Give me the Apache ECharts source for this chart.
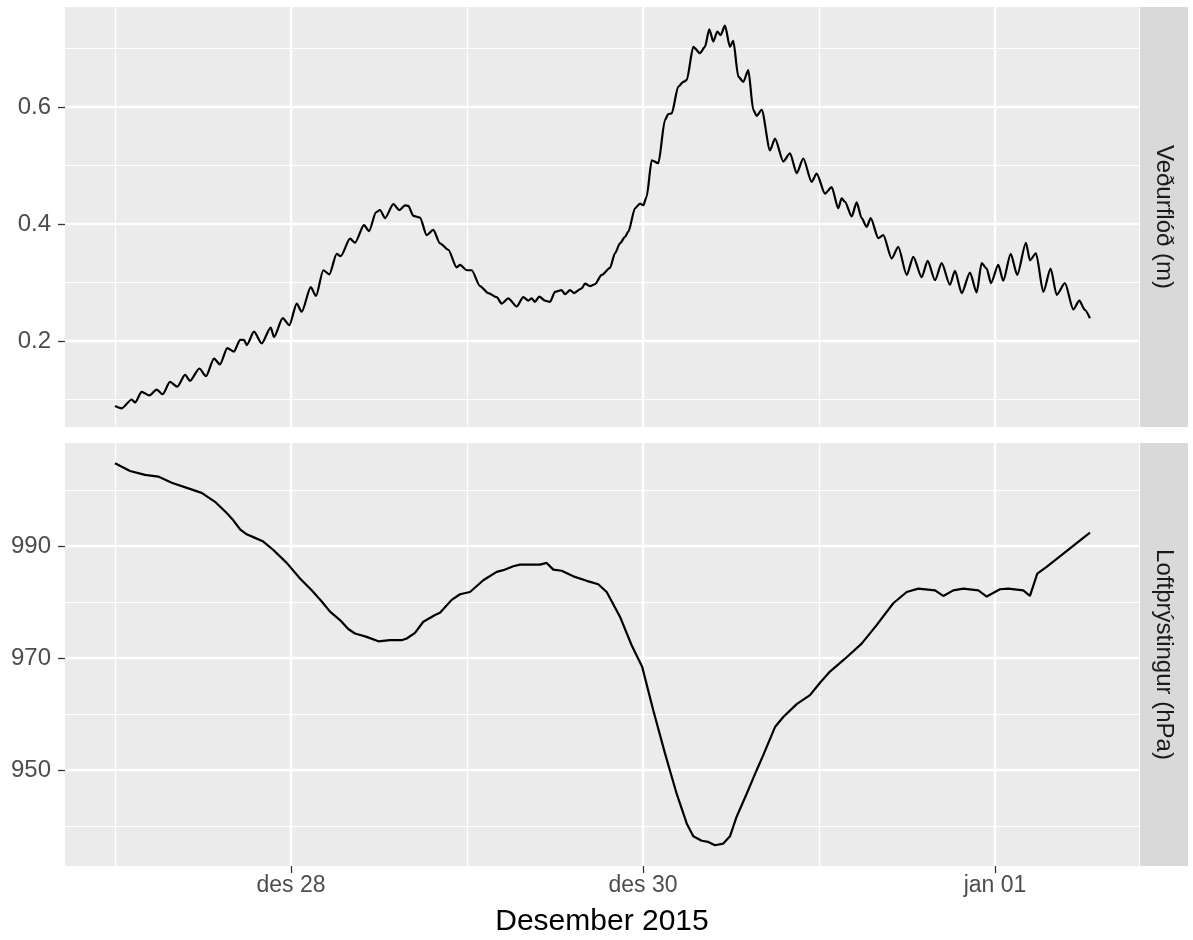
<!DOCTYPE html>
<html>
<head>
<meta charset="utf-8">
<script src="https://cdn.jsdelivr.net/npm/echarts@6/dist/echarts.min.js"></script>
<style>html,body{margin:0;padding:0;background:#fff;}#chart{width:1193px;height:940px;}</style>
</head>
<body>
<div id="chart"></div>
<script>
// hours since 27 Dec 2015 00:00
const surgeHours = [0,0.91,2.28,2.73,3.64,4.68,5.69,6.50,7.50,8.50,9.55,10.23,11.50,12.41,13.50,14.32,15.31,16.23,17.05,17.59,17.96,18.95,20.00,21.23,21.68,22.87,23.77,24.78,25.46,26.69,27.41,28.40,29.22,30.23,30.78,32.05,32.73,33.95,34.64,35.59,36.14,36.82,37.95,38.77,39.55,40.00,40.68,41.59,42.50,43.40,44.32,45.45,46.59,47.05,47.96,48.64,49.77,50.90,52.05,52.73,53.63,54.78,55.68,56.36,56.82,57.27,57.86,58.64,59.32,60.00,60.91,61.36,62.05,62.59,63.64,64.09,64.77,65.45,66.37,67.50,68.18,68.86,69.55,70.00,70.91,71.59,72.04,72.50,73.19,74.09,75.00,75.45,75.91,76.81,77.50,77.96,78.86,79.77,80.45,81.04,81.59,82.13,82.59,83.18,83.86,84.31,85.00,85.68,86.36,87.04,87.50,88.19,89.32,90.00,91.13,92.05,92.96,93.86,95.00,95.68,96.82,97.73,98.63,99.09,99.55,100.46,101.14,101.82,102.50,103.05,104.09,104.77,105.91,106.81,107.96,108.86,110.00,110.82,111.82,112.73,113.86,114.54,115.46,116.59,117.50,118.18,118.87,119.45,120.45,121.13,122.14,123.04,124.22,124.77,125.59,126.59,127.59,128.41,129.54,130.68,131.50,132.27,132.95];
const surgeValues = [0.089,0.085,0.100,0.095,0.113,0.107,0.117,0.109,0.130,0.122,0.142,0.132,0.153,0.140,0.170,0.160,0.188,0.182,0.202,0.202,0.193,0.216,0.196,0.223,0.207,0.239,0.227,0.264,0.250,0.292,0.277,0.321,0.314,0.349,0.345,0.375,0.368,0.398,0.388,0.420,0.424,0.410,0.434,0.424,0.432,0.431,0.414,0.411,0.381,0.390,0.367,0.356,0.326,0.330,0.321,0.321,0.294,0.282,0.275,0.264,0.273,0.259,0.275,0.269,0.273,0.267,0.276,0.269,0.267,0.284,0.287,0.280,0.287,0.282,0.290,0.298,0.294,0.297,0.313,0.325,0.350,0.367,0.378,0.387,0.427,0.435,0.432,0.447,0.509,0.504,0.578,0.588,0.589,0.635,0.643,0.646,0.703,0.692,0.703,0.733,0.712,0.729,0.723,0.739,0.703,0.713,0.652,0.643,0.663,0.595,0.585,0.595,0.526,0.546,0.507,0.521,0.487,0.512,0.472,0.486,0.452,0.463,0.427,0.444,0.438,0.413,0.437,0.410,0.395,0.410,0.376,0.381,0.341,0.361,0.313,0.344,0.309,0.337,0.304,0.333,0.296,0.320,0.282,0.317,0.283,0.333,0.324,0.299,0.330,0.303,0.349,0.313,0.368,0.338,0.350,0.284,0.324,0.279,0.299,0.254,0.269,0.253,0.239];

const pressureHours = [0,2.05,4.09,5.90,7.73,10.00,11.82,13.64,15.23,16.13,17.05,17.96,18.86,20.22,21.59,23.41,25.23,26.82,28.19,29.32,30.68,31.81,32.73,34.32,35.90,37.50,39.09,39.78,40.91,42.04,43.64,44.32,45.91,47.05,48.41,50.22,52.05,52.95,54.31,55.23,57.95,58.87,59.77,60.91,62.50,64.32,65.90,67.05,68.86,70.45,71.90,73.40,75.00,76.59,77.96,78.86,80.00,80.90,81.82,82.95,83.86,84.77,86.14,87.50,88.40,90.00,91.13,92.96,94.77,96.14,97.50,99.55,101.82,103.86,106.13,107.96,109.54,111.82,112.95,114.32,115.68,117.73,118.87,120.68,121.81,123.86,124.77,125.77,127.04,132.95];
const pressureValues = [1004.8,1003.4,1002.7,1002.4,1001.3,1000.3,999.5,997.9,995.9,994.6,993.0,992.1,991.6,990.8,989.3,987.0,984.2,982.1,980.1,978.3,976.8,975.2,974.4,973.8,973.0,973.2,973.2,973.5,974.5,976.5,977.7,978.1,980.4,981.4,981.8,983.9,985.4,985.7,986.4,986.7,986.7,987.0,985.8,985.6,984.6,983.8,983.2,981.8,977.4,972.3,968.4,960.7,953.0,945.8,940.5,938.2,937.4,937.2,936.6,936.9,938.2,941.7,945.8,950.0,952.7,957.7,959.5,961.8,963.4,965.6,967.6,969.9,972.6,975.9,979.8,981.8,982.4,982.1,981.1,982.1,982.4,982.1,981.0,982.3,982.4,982.1,981.1,985.1,986.3,992.4];

const xMajorHours = [24, 72, 120];
const xMajorLabels = ['des 28', 'des 30', 'jan 01'];
const xMinorHours = [0, 48, 96];
const surgeMajorTicks = [0.2, 0.4, 0.6];
const surgeMinorTicks = [0.1, 0.3, 0.5, 0.7];
const pressureMajorTicks = [950, 970, 990];
const pressureMinorTicks = [940, 960, 980, 1000];
const stripLabels = ['Veðurflóð (m)', 'Loftþrýstingur (hPa)'];
const xTitle = 'Desember 2015';

const FONT = '"Liberation Sans", Arial, Helvetica, sans-serif';
const X_MIN = -6.82, X_MAX = 139.64;
const Y_RANGES = [[0.053, 0.771], [932.9, 1008.4]];
const GRIDS = [{left: 65, top: 7, width: 1074, height: 420}, {left: 65, top: 443, width: 1074, height: 423}];

function zip(a, b) { return a.map((v, i) => [v, b[i]]); }

const xAxes = [], yAxes = [];
GRIDS.forEach((g, gi) => {
  // minor
  xAxes.push({type: 'value', gridIndex: gi, position: 'bottom', min: X_MIN, max: X_MAX,
    axisLine: {show: false, onZero: false}, axisTick: {show: false, customValues: xMinorHours},
    axisLabel: {show: false, customValues: xMinorHours},
    splitLine: {show: true, lineStyle: {color: '#ffffff', width: 1.2}}});
  // major
  xAxes.push({type: 'value', gridIndex: gi, position: 'bottom', min: X_MIN, max: X_MAX,
    axisLine: {show: false, onZero: false},
    axisTick: {show: gi === 1, length: 7, customValues: xMajorHours, lineStyle: {color: '#333333', width: 1.3}},
    axisLabel: {show: gi === 1, margin: 8, customValues: xMajorHours, color: '#4d4d4d', fontSize: 23, fontFamily: FONT,
      formatter: v => { const i = xMajorHours.indexOf(Math.round(v)); return i >= 0 ? xMajorLabels[i] : ''; }},
    splitLine: {show: true, lineStyle: {color: '#ffffff', width: 2.4}},
    name: gi === 1 ? xTitle : '', nameLocation: 'middle', nameGap: 41,
    nameTextStyle: {color: '#000000', fontSize: 30, fontFamily: FONT}});
  const r = Y_RANGES[gi];
  const maj = gi === 0 ? surgeMajorTicks : pressureMajorTicks;
  const min = gi === 0 ? surgeMinorTicks : pressureMinorTicks;
  yAxes.push({type: 'value', gridIndex: gi, position: 'left', min: r[0], max: r[1],
    axisLine: {show: false, onZero: false}, axisTick: {show: false, customValues: min},
    axisLabel: {show: false, customValues: min},
    splitLine: {show: true, lineStyle: {color: '#ffffff', width: 1.2}}});
  yAxes.push({type: 'value', gridIndex: gi, position: 'left', min: r[0], max: r[1],
    axisLine: {show: false, onZero: false},
    axisTick: {show: true, length: 7, customValues: maj, lineStyle: {color: '#333333', width: 1.3}},
    axisLabel: {show: true, margin: 14, customValues: maj, color: '#4d4d4d', fontSize: 24, fontFamily: FONT,
      formatter: v => gi === 0 ? v.toFixed(1) : String(Math.round(v))},
    splitLine: {show: true, lineStyle: {color: '#ffffff', width: 2.4}}});
});

const graphics = [];
GRIDS.forEach((g, gi) => {
  graphics.push({type: 'rect', shape: {x: 1140, y: g.top, width: 48, height: g.height},
    style: {fill: '#d9d9d9'}, silent: true});
  graphics.push({type: 'text', x: 1164, y: g.top + g.height / 2, rotation: -Math.PI / 2,
    style: {text: stripLabels[gi], textAlign: 'center', textVerticalAlign: 'middle',
      fontSize: 24, fontFamily: FONT, fill: '#1a1a1a'}, silent: true});
});

const chart = echarts.init(document.getElementById('chart'), null, {renderer: 'canvas'});
chart.setOption({
  animation: false,
  backgroundColor: '#ffffff',
  grid: GRIDS.map(g => Object.assign({show: true, backgroundColor: '#ebebeb', borderWidth: 0}, g)),
  xAxis: xAxes,
  yAxis: yAxes,
  graphic: graphics,
  series: [
    {type: 'line', xAxisIndex: 1, yAxisIndex: 1, data: zip(surgeHours, surgeValues), showSymbol: false,
      lineStyle: {color: '#000000', width: 2.2}, smooth: 0.25, smoothMonotone: 'x'},
    {type: 'line', xAxisIndex: 3, yAxisIndex: 3, data: zip(pressureHours, pressureValues), showSymbol: false,
      lineStyle: {color: '#000000', width: 2.2}, smooth: false}
  ]
});
</script>
</body>
</html>
